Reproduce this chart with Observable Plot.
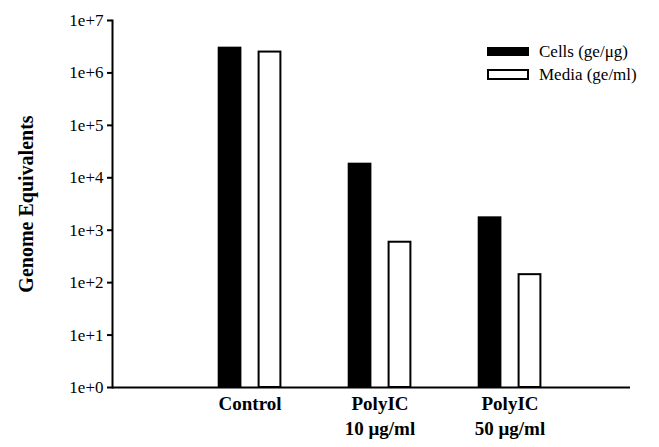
<!DOCTYPE html>
<html>
<head>
<meta charset="utf-8">
<script src="https://cdn.jsdelivr.net/npm/d3@7"></script>
<script src="https://cdn.jsdelivr.net/npm/@observablehq/plot@0.6"></script>
<style>
  html, body { margin: 0; padding: 0; background: #fff; }
  #wrap { position: relative; width: 659px; height: 447px; font-family: "Liberation Serif", "Times New Roman", Times, "DejaVu Serif", serif; }
  #wrap svg, #wrap svg text { font-family: "Liberation Serif", "Times New Roman", Times, "DejaVu Serif", serif !important; }
  #legend { position: absolute; left: 487px; top: 40px; font-size: 17px; color: #000; }
  .item { display: flex; align-items: center; height: 23px; }
  .sw { width: 42px; height: 10px; box-sizing: border-box; margin-right: 10px; }
</style>
</head>
<body>
<div id="wrap"></div>
<script>
const categories = ["Control", "PolyIC\n10 μg/ml", "PolyIC\n50 μg/ml"];
const cellsValues = [3.1e6, 1.9e4, 1.8e3];
const mediaValues = [2.5e6, 590, 142];
const seriesNames = ["Cells (ge/μg)", "Media (ge/ml)"];
const yTicks = [1, 10, 100, 1e3, 1e4, 1e5, 1e6, 1e7];
const yTickLabels = ["1e+0", "1e+1", "1e+2", "1e+3", "1e+4", "1e+5", "1e+6", "1e+7"];

const cells = categories.map((c, i) => ({group: c, value: cellsValues[i]}));
const media = categories.map((c, i) => ({group: c, value: mediaValues[i]}));

const chart = Plot.plot({
  width: 659,
  height: 447,
  marginTop: 20,
  marginBottom: 60,
  marginLeft: 112,
  marginRight: 29,
  style: {background: "white", color: "black"},
  x: {domain: categories, paddingInner: 0.3, paddingOuter: 0.635, align: 0.551},
  y: {type: "log", domain: [1, 1e7]},
  marks: [
    Plot.barY(cells, {x: "group", y1: 1, y2: "value", fill: "black", insetLeft: 13.7, insetRight: 53.6}),
    Plot.barY(media, {x: "group", y1: 1, y2: "value", fill: "white", stroke: "black", strokeWidth: 2, insetLeft: 54.6, insetRight: 14.6}),
    Plot.ruleY([1], {strokeWidth: 2}),
    Plot.frame({anchor: "left", strokeWidth: 2}),
    Plot.axisY({ticks: yTicks, tickFormat: (d) => yTickLabels[yTicks.indexOf(d)], tickSize: 5, tickPadding: 4, fontSize: 17, strokeWidth: 2, label: null}),
    Plot.axisX({tickSize: 0, tickPadding: 5, fontSize: 19, fontWeight: "bold", lineHeight: 1.32, label: null}),
    Plot.text(["Genome Equivalents"], {frameAnchor: "left", textAnchor: "middle", rotate: -90, dx: -86, fontWeight: "bold", fontSize: 20})
  ]
});

const wrap = document.getElementById("wrap");
wrap.appendChild(chart);

const legend = document.createElement("div");
legend.id = "legend";
const swStyles = [
  {background: "black", border: "none", height: "9px"},
  {background: "white", border: "2px solid black", height: "11px"}
];
seriesNames.forEach((name, i) => {
  const item = document.createElement("div");
  item.className = "item";
  const sw = document.createElement("div");
  sw.className = "sw";
  Object.assign(sw.style, swStyles[i]);
  const label = document.createElement("span");
  label.textContent = name;
  item.appendChild(sw);
  item.appendChild(label);
  legend.appendChild(item);
});
wrap.appendChild(legend);
</script>
</body>
</html>
